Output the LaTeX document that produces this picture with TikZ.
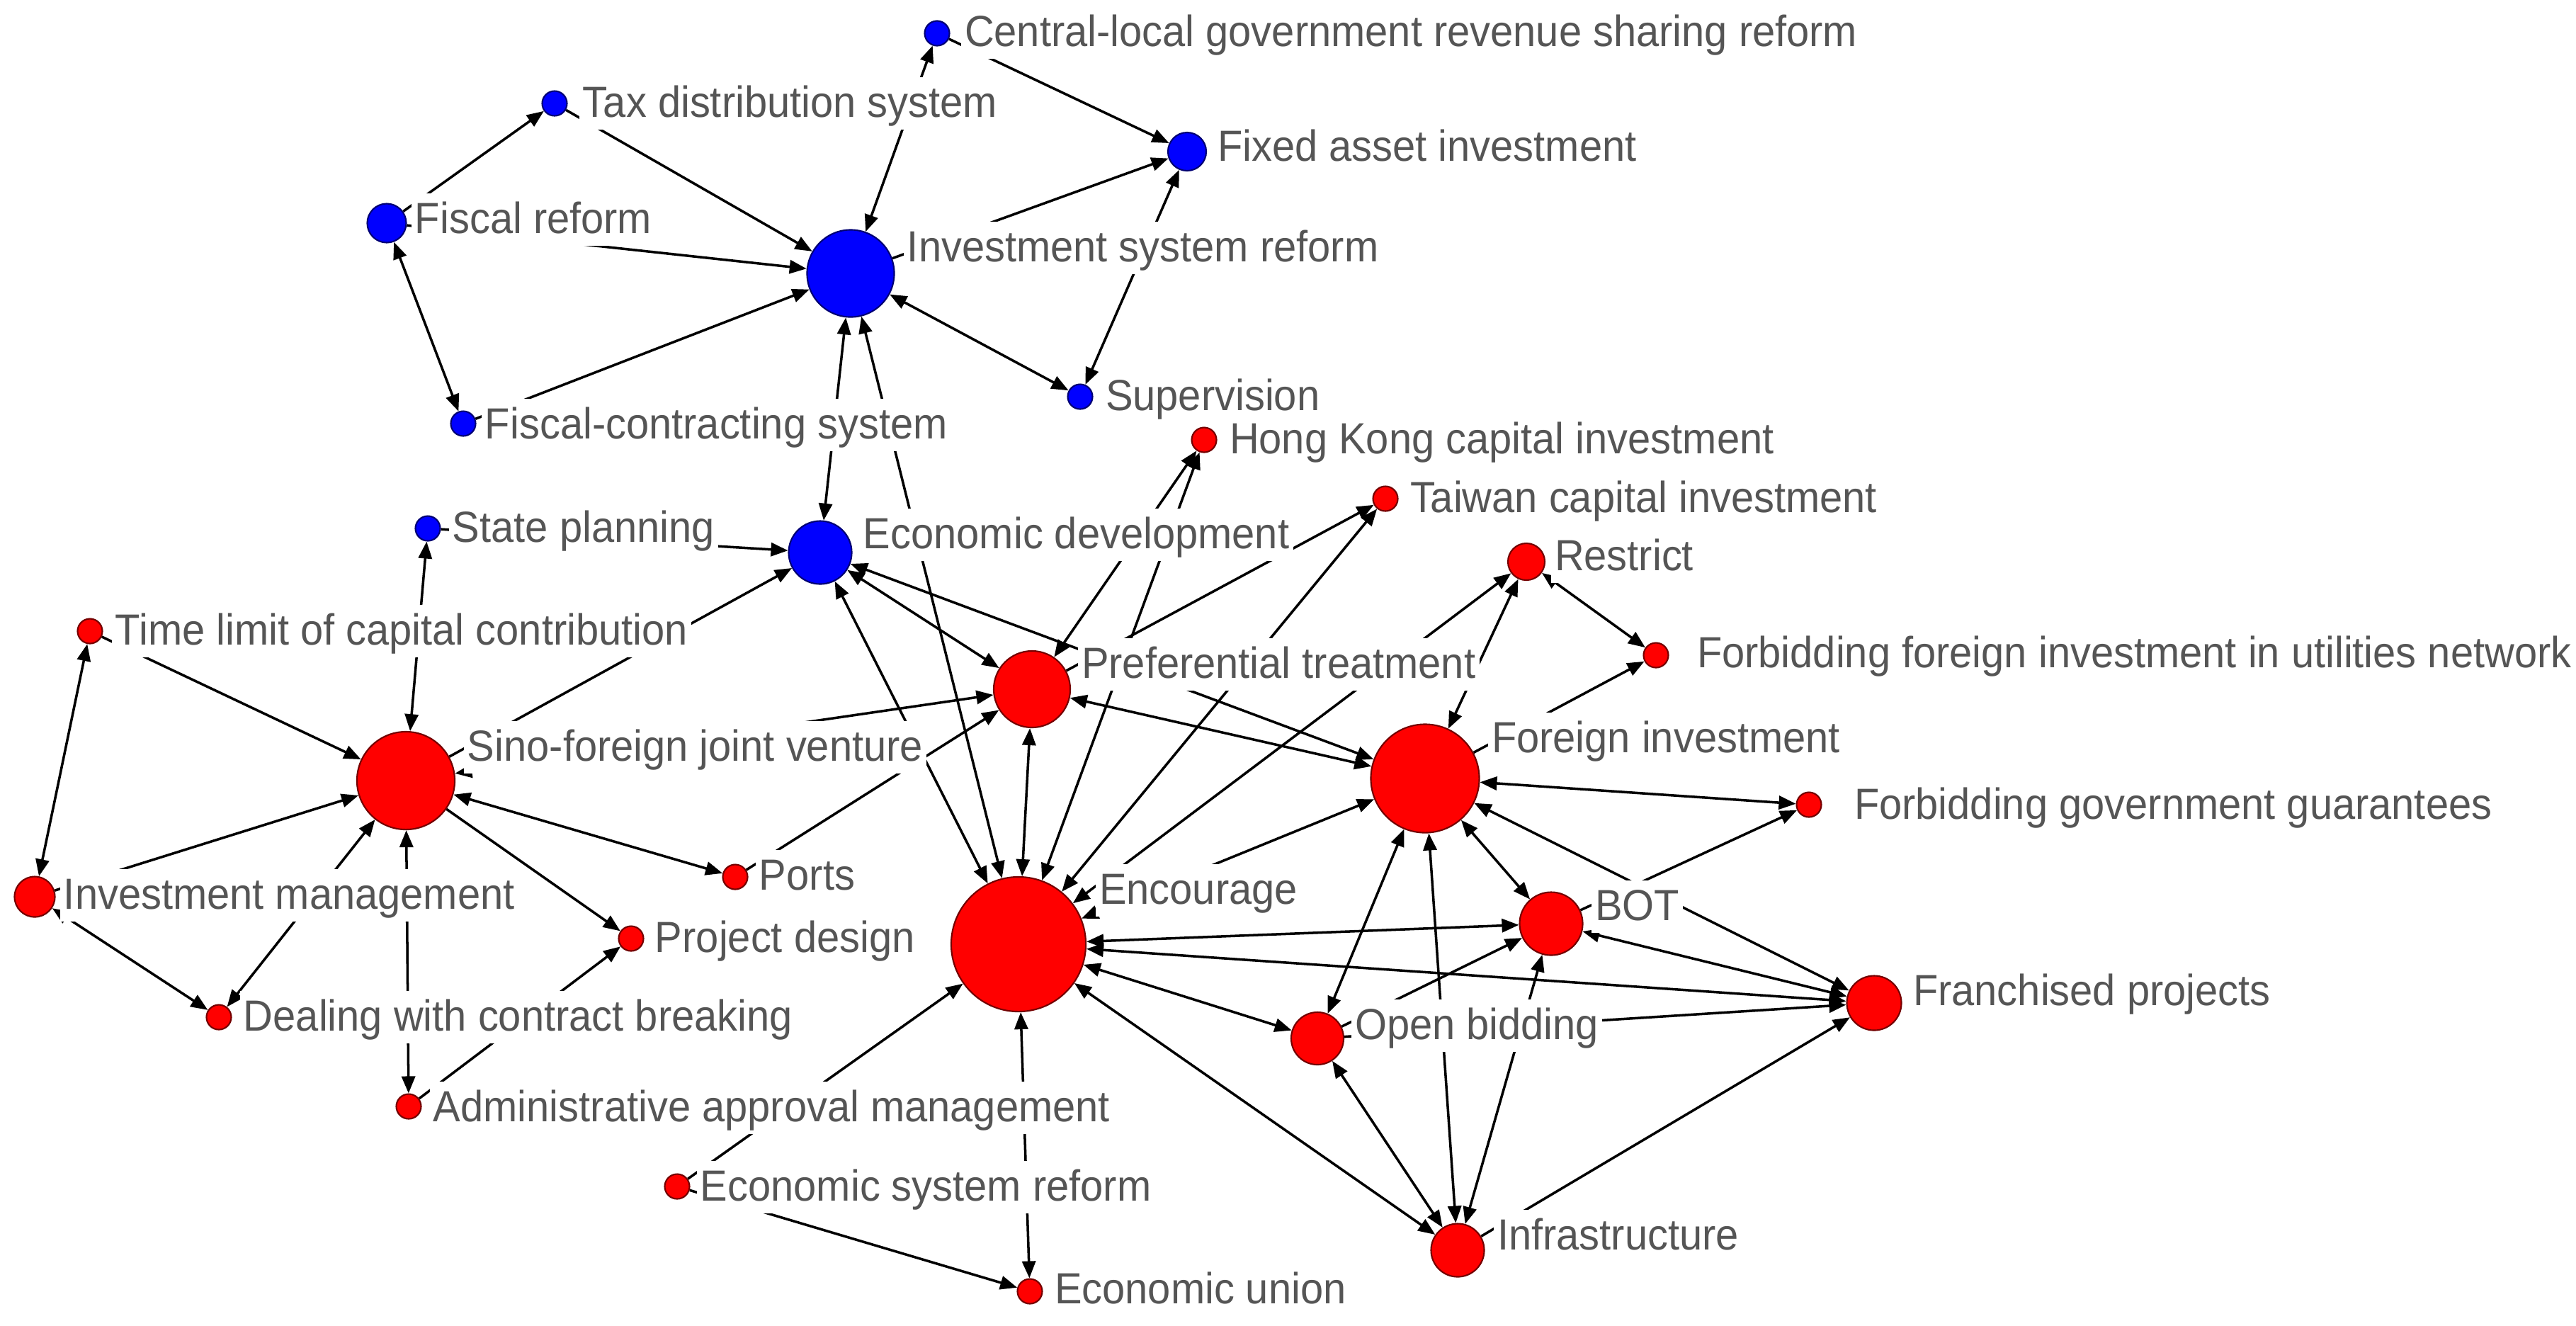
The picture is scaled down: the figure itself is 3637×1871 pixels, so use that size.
\documentclass[tikz,border=0pt]{standalone}
\usepackage{fontspec}
\setmainfont{Liberation Sans}[FakeStretch=0.94]
\usetikzlibrary{arrows.meta}
\pgfdeclarelayer{edgelayer}
\pgfsetlayers{edgelayer,main}
\definecolor{nred}{RGB}{255,0,0}
\definecolor{nblue}{RGB}{0,0,255}
\definecolor{labgray}{RGB}{85,85,85}
\begin{document}
\begin{tikzpicture}[x=0.01cm,y=-0.01cm,
  >={Triangle[length=0.24cm,width=0.19cm]},
  vtx/.style={circle,inner sep=0pt,line width=0.6pt},
  rv/.style={vtx,fill=nred,draw=nred!45!black},
  bv/.style={vtx,fill=nblue,draw=nblue!45!black},
  sm/.style={minimum size=0.35cm},
  lab/.style={anchor=west,fill=white,inner xsep=1.5pt,inner ysep=1pt,
    text height=15pt,text depth=4pt,text=labgray,font=\fontsize{17.5}{20}\selectfont},
  ar/.style={line width=1pt,->},
  bi/.style={line width=1pt,<->}]
\useasboundingbox (0,0) rectangle (3637,1871);
% vertices
\node[bv,sm] (cl) at (1323,47) {};
\node[bv,sm] (tax) at (783,146) {};
\node[bv,minimum size=0.54cm] (fa) at (1676,214) {};
\node[bv,minimum size=0.55cm] (fr) at (546,315) {};
\node[bv,minimum size=1.23cm] (isr) at (1201,386) {};
\node[bv,sm] (sup) at (1525,560) {};
\node[bv,sm] (fcs) at (654,598) {};
\node[rv,sm] (hk) at (1700,621) {};
\node[rv,sm] (tw) at (1956,704) {};
\node[bv,sm] (sp) at (604,746) {};
\node[bv,minimum size=0.89cm] (ed) at (1158,780) {};
\node[rv,minimum size=0.52cm] (rs) at (2155,793) {};
\node[rv,sm] (tl) at (127,891) {};
\node[rv,sm] (ffu) at (2338,925) {};
\node[rv,minimum size=1.08cm] (pt) at (1457,973) {};
\node[rv,minimum size=1.38cm] (sf) at (573,1102) {};
\node[rv,minimum size=1.53cm] (fi) at (2012,1099) {};
\node[rv,sm] (fgg) at (2554,1136) {};
\node[rv,sm] (po) at (1038,1238) {};
\node[rv,minimum size=0.57cm] (im) at (49,1266) {};
\node[rv,minimum size=1.9cm] (enc) at (1438,1333) {};
\node[rv,minimum size=0.89cm] (bot) at (2190,1304) {};
\node[rv,sm] (pd) at (891,1325) {};
\node[rv,minimum size=0.77cm] (fp) at (2646,1416) {};
\node[rv,sm] (dcb) at (309,1436) {};
\node[rv,minimum size=0.74cm] (ob) at (1860,1466) {};
\node[rv,sm] (aam) at (577,1562) {};
\node[rv,sm] (esr) at (956,1675) {};
\node[rv,minimum size=0.75cm] (inf) at (2058,1765) {};
\node[rv,sm] (eu) at (1454,1823) {};
% edges
\begin{pgfonlayer}{edgelayer}
\draw[ar] (fr) -- (tax);
\draw[ar] (tax) -- (isr);
\draw[ar] (fr) -- (isr);
\draw[bi] (fr) -- (fcs);
\draw[ar] (fcs) -- (isr);
\draw[bi] (cl) -- (isr);
\draw[ar] (cl) -- (fa);
\draw[ar] (isr) -- (fa);
\draw[bi] (sup) -- (fa);
\draw[bi] (isr) -- (sup);
\draw[bi] (isr) -- (ed);
\draw[bi] (isr) -- (enc);
\draw[ar] (sp) -- (ed);
\draw[ar] (sf) -- (ed);
\draw[bi] (sf) -- (sp);
\draw[bi] (ed) -- (enc);
\draw[bi] (ed) -- (pt);
\draw[bi] (ed) -- (fi);
\draw[bi] (hk) -- (pt);
\draw[bi] (hk) -- (enc);
\draw[ar] (pt) -- (tw);
\draw[bi] (tw) -- (enc);
\draw[bi] (pt) -- (fi);
\draw[bi] (pt) -- (enc);
\draw[bi] (sf) -- (pt);
\draw[ar] (po) -- (pt);
\draw[bi] (rs) -- (fi);
\draw[bi] (rs) -- (enc);
\draw[bi] (rs) -- (ffu);
\draw[ar] (fi) -- (ffu);
\draw[bi] (fi) -- (fgg);
\draw[bi] (fi) -- (fp);
\draw[bi] (fi) -- (bot);
\draw[bi] (fi) -- (ob);
\draw[bi] (fi) -- (inf);
\draw[bi] (enc) -- (fi);
\draw[bi] (enc) -- (bot);
\draw[bi] (enc) -- (fp);
\draw[bi] (enc) -- (ob);
\draw[bi] (enc) -- (inf);
\draw[bi] (enc) -- (eu);
\draw[ar] (esr) -- (enc);
\draw[ar] (esr) -- (eu);
\draw[ar] (ob) -- (bot);
\draw[bi] (ob) -- (inf);
\draw[ar] (ob) -- (fp);
\draw[bi] (bot) -- (fp);
\draw[bi] (bot) -- (inf);
\draw[ar] (bot) -- (fgg);
\draw[ar] (inf) -- (fp);
\draw[ar] (tl) -- (sf);
\draw[bi] (tl) -- (im);
\draw[ar] (im) -- (sf);
\draw[bi] (dcb) -- (sf);
\draw[bi] (im) -- (dcb);
\draw[bi] (aam) -- (sf);
\draw[bi] (sf) -- (po);
\draw[ar] (sf) -- (pd);
\draw[ar] (aam) -- (pd);
\end{pgfonlayer}
% labels
\node[lab] (lcl) at (1356,46) {Central-local government revenue sharing reform};
\node[lab] (ltax) at (817,146) {Tax distribution system};
\node[lab] (lfa) at (1713,208) {Fixed asset investment};
\node[lab] (lfr) at (580,310) {Fiscal reform};
\node[lab] (lisr) at (1275,350) {Investment system reform};
\node[lab] (lsup) at (1555,560) {Supervision};
\node[lab] (lfcs) at (679,600) {Fiscal-contracting system};
\node[lab] (lhk) at (1730,621) {Hong Kong capital investment};
\node[lab] (ltw) at (1985,704) {Taiwan capital investment};
\node[lab] (lsp) at (633,746) {State planning};
\node[lab] (led) at (1213,755) {Economic development};
\node[lab] (lrs) at (2189,786) {Restrict};
\node[lab] (ltl) at (157,891) {Time limit of capital contribution};
\node[lab] (lffu) at (2390,923) {Forbidding foreign investment in utilities network};
\node[lab] (lpt) at (1521,938) {Preferential treatment};
\node[lab] (lsf) at (654,1055) {Sino-foreign joint venture};
\node[lab] (lfi) at (2100,1043) {Foreign investment};
\node[lab] (lfgg) at (2612,1137) {Forbidding government guarantees};
\node[lab] (lpo) at (1066,1237) {Ports};
\node[lab] (lim) at (84,1264) {Investment management};
\node[lab] (lenc) at (1546,1257) {Encourage};
\node[lab] (lbot) at (2246,1280) {BOT};
\node[lab] (lpd) at (919,1325) {Project design};
\node[lab] (lfp) at (2695,1400) {Franchised projects};
\node[lab] (ldcb) at (338,1436) {Dealing with contract breaking};
\node[lab] (lob) at (1907,1448) {Open bidding};
\node[lab] (laam) at (606,1564) {Administrative approval management};
\node[lab] (lesr) at (983,1676) {Economic system reform};
\node[lab] (linf) at (2108,1745) {Infrastructure};
\node[lab] (leu) at (1483,1821) {Economic union};
\end{tikzpicture}
\end{document}
